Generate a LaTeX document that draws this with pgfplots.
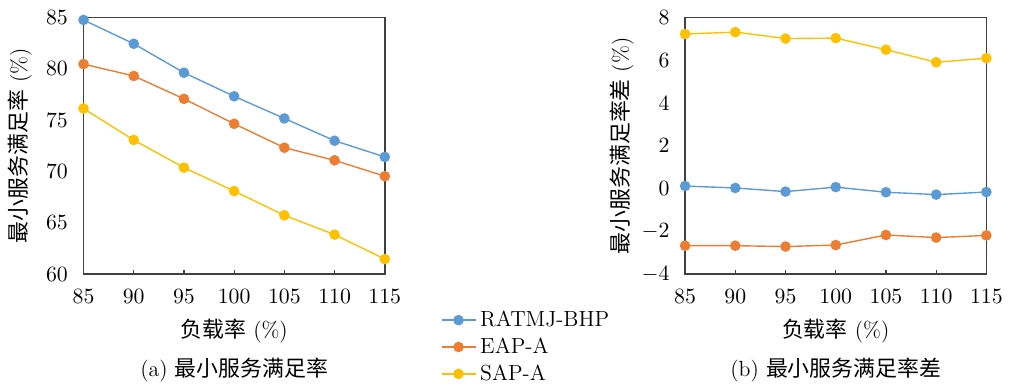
\documentclass[border=0pt]{standalone}
\usepackage{pgfplots}
\pgfplotsset{compat=1.18}
\usepackage{fontspec}
\newfontfamily\cjk{Noto Sans CJK SC}
\definecolor{cA}{HTML}{5B9BD5}
\definecolor{cB}{HTML}{ED7D31}
\definecolor{cC}{HTML}{FFC000}
\definecolor{axgray}{HTML}{404040}
\begin{document}
\fontsize{11}{13.5}\selectfont
\begin{tikzpicture}
\pgfplotsset{
  every axis/.append style={
    scale only axis, width=151.5pt, height=129pt,
    xmin=85, xmax=115, xtick={85,90,...,115},
    axis line style={axgray, line width=0.75pt},
    tick style={axgray, line width=0.6pt},
    xtick pos=bottom, ytick pos=left, tick align=inside,
    major tick length=2.2pt,
    ytick style={draw=none},
    tick label style={font=\fontsize{11}{13.5}\selectfont},
    xticklabel style={yshift=-4pt},
    yticklabel style={xshift=-4pt},
    label style={font=\fontsize{11}{13.5}\selectfont},
    xlabel={{\cjk 负载率} (\%)},
    xlabel style={at={(axis description cs:0.5,-0.221)}, anchor=center},
    ylabel style={at={(axis description cs:-0.211,0.5)}, anchor=center},
    every axis plot/.append style={line width=0.7pt, mark=*, mark size=2.3pt, mark options={solid}},
    clip=false,
  },
}
\begin{axis}[
  ymin=60, ymax=85, ytick={60,65,...,85},
  ylabel={{\cjk 最小服务满足率} (\%)},
  legend style={draw=none, fill=none, at={(1.165,-0.11)}, anchor=north west,
    font=\fontsize{11}{13.5}\selectfont, row sep=0pt},
  legend cell align=left,
  legend image post style={mark size=2.3pt},
]
\addplot[cA] coordinates {(85,84.77) (90,82.45) (95,79.63) (100,77.33) (105,75.17) (110,73.00) (115,71.42)};
\addplot[cB] coordinates {(85,80.47) (90,79.31) (95,77.08) (100,74.65) (105,72.32) (110,71.09) (115,69.54)};
\addplot[cC] coordinates {(85,76.14) (90,73.07) (95,70.38) (100,68.09) (105,65.73) (110,63.85) (115,61.46)};
\legend{RATMJ-BHP, EAP-A, SAP-A}
\node at (rel axis cs:0.5,-0.0) [yshift=-48pt] {(a) {\cjk 最小服务满足率}};
\path (rel axis cs:0,1) ++(-42pt,8.85pt);
\end{axis}
\begin{axis}[
  xshift=302.5pt,
  ymin=-4, ymax=8, ytick={-4,-2,...,8},
  ylabel={{\cjk 最小服务满足率差} (\%)},
]
\addplot[cA] coordinates {(85,0.12) (90,0.03) (95,-0.14) (100,0.07) (105,-0.17) (110,-0.28) (115,-0.16)};
\addplot[cB] coordinates {(85,-2.67) (90,-2.67) (95,-2.71) (100,-2.64) (105,-2.17) (110,-2.29) (115,-2.19)};
\addplot[cC] coordinates {(85,7.23) (90,7.32) (95,7.02) (100,7.04) (105,6.50) (110,5.91) (115,6.10)};
\node at (rel axis cs:0.5,-0.0) [yshift=-48pt] {(b) {\cjk 最小服务满足率差}};
\path (rel axis cs:1,0) ++(9pt,-53.5pt);
\end{axis}
\end{tikzpicture}
\end{document}
